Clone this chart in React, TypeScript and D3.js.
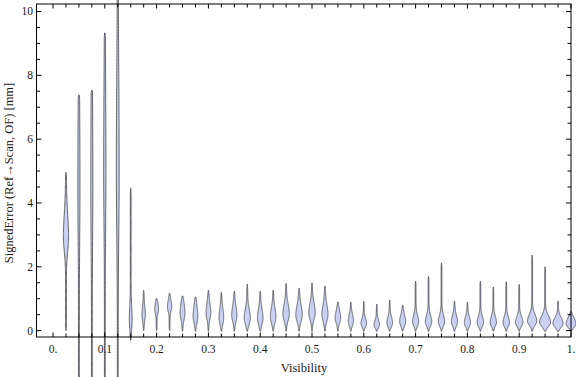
import React from "react";
import * as d3 from "d3";

// Violin positions (Visibility bins)
const positions = [0.025, 0.05, 0.075, 0.1, 0.125, 0.15, 0.175, 0.2, 0.225, 0.25, 0.275, 0.3, 0.325, 0.35, 0.375, 0.4, 0.425, 0.45, 0.475, 0.5, 0.525, 0.55, 0.575, 0.6, 0.625, 0.65, 0.675, 0.7, 0.725, 0.75, 0.775, 0.8, 0.825, 0.85, 0.875, 0.9, 0.925, 0.95, 0.975, 1.0];
// max of each distribution [mm]
const maxima = [4.96, 7.38, 7.53, 9.33, 10.6, 4.46, 1.26, 1.0, 1.17, 1.08, 1.05, 1.27, 1.2, 1.24, 1.46, 1.24, 1.27, 1.48, 1.33, 1.5, 1.4, 0.9, 0.9, 0.92, 0.83, 0.96, 0.8, 1.55, 1.7, 2.12, 0.93, 0.9, 1.55, 1.37, 1.53, 1.45, 2.37, 2.0, 0.93, 0.59];
// min of each distribution [mm]
const minima = [0.0, -2.6, -2.6, -2.6, -2.6, -0.3, 0.0, 0.0, 0.0, -0.02, -0.02, -0.02, -0.02, -0.02, -0.02, -0.02, -0.02, -0.02, -0.02, -0.02, -0.02, -0.02, -0.02, -0.02, -0.02, -0.02, -0.02, -0.02, -0.02, -0.02, -0.02, -0.02, -0.02, -0.02, -0.02, -0.02, -0.02, -0.02, -0.02, -0.02];
// mode of each distribution [mm]
const modes = [2.95, 4.5, 4.5, 5.0, 5.0, 0.35, 0.49, 0.67, 0.74, 0.55, 0.45, 0.55, 0.4, 0.48, 0.39, 0.39, 0.43, 0.52, 0.49, 0.55, 0.5, 0.39, 0.3, 0.22, 0.18, 0.24, 0.28, 0.28, 0.28, 0.28, 0.28, 0.25, 0.26, 0.26, 0.25, 0.26, 0.3, 0.26, 0.22, 0.22];
// relative peak density
const peaks = [0.48, 0.14, 0.14, 0.16, 0.22, 0.22, 0.28, 0.33, 0.38, 0.43, 0.43, 0.43, 0.43, 0.48, 0.58, 0.52, 0.52, 0.62, 0.62, 0.62, 0.58, 0.52, 0.48, 0.52, 0.52, 0.52, 0.58, 0.58, 0.6, 0.6, 0.58, 0.58, 0.62, 0.6, 0.62, 0.72, 0.92, 1.12, 1.02, 0.98];
// spread of the central bulge [mm]
const spreads = [0.7, 2.5, 2.5, 2.5, 3.0, 0.4, 0.25, 0.2, 0.2, 0.3, 0.3, 0.28, 0.28, 0.28, 0.28, 0.28, 0.28, 0.3, 0.3, 0.3, 0.3, 0.22, 0.2, 0.16, 0.14, 0.18, 0.2, 0.2, 0.2, 0.2, 0.2, 0.18, 0.18, 0.18, 0.18, 0.18, 0.2, 0.2, 0.18, 0.18];

const xTickLabels = ["0.", "0.1", "0.2", "0.3", "0.4", "0.5", "0.6", "0.7", "0.8", "0.9", "1."];
const xTickValues = [0, 0.1, 0.2, 0.3, 0.4, 0.5, 0.6, 0.7, 0.8, 0.9, 1.0];
const yTickValues = [0, 2, 4, 6, 8, 10];

const W = 576, H = 377;
const L = 36.5, R = 571, T = 4, B = 337;

export default function App() {
  const x = d3.scaleLinear().domain([-0.0319, 1.0]).range([L, R]);
  const y = d3.scaleLinear().domain([-0.2, 10.235]).range([B, T]);
  const wScale = d3.scaleLinear().domain([0, 1]).range([0, 4.6]);

  const violins = positions.map((p, i) => {
    const lo = minima[i], hi = maxima[i], m = modes[i], s = spreads[i];
    const peak = wScale(peaks[i]);
    const n = 140;
    const pts: [number, number][] = [];
    for (let k = 0; k <= n; k++) {
      const v = lo + ((hi - lo) * k) / n;
      const sd = v < m ? s * 0.65 : s * 1.0;
      const g = Math.exp(-0.5 * ((v - m) / sd) ** 2);
      const distEnd = Math.min(v - lo, hi - v);
      const taper = Math.min(1, distEnd / 0.15);
      const base = 0.4 * Math.sqrt(Math.max(0, taper));
      pts.push([v, base + peak * g]);
    }
    const cx = x(p);
    const right = pts.map(([v, w]) => [cx + w, y(v)] as [number, number]);
    const left = pts.slice().reverse().map(([v, w]) => [cx - w, y(v)] as [number, number]);
    const line = d3.line().curve(d3.curveLinear);
    return line([...right, ...left]) + "Z";
  });

  const xMinor = d3.range(0, 41).map((k) => k * 0.025);
  const yMinor = d3.range(0, 21).map((k) => k * 0.5);
  const font = "'Liberation Serif', 'DejaVu Serif', serif";

  return (
    <svg width={W} height={H} style={{ position: "absolute", left: 0, top: 0, background: "white" }} overflow="visible">
      <rect x={0} y={0} width={W} height={H} fill="white" />
      {violins.map((d, i) => (
        <path key={i} d={d} fill="#c9d0f3" stroke="#333" strokeWidth={0.85} strokeOpacity={0.85} />
      ))}
      {/* frame */}
      <rect x={L} y={T} width={R - L} height={B - T} fill="none" stroke="#000" strokeWidth={1} />
      {xMinor.map((v, i) => {
        const major = Math.abs(v * 10 - Math.round(v * 10)) < 1e-6;
        const len = major ? 4.5 : 3.5;
        return (
          <g key={"xt" + i}>
            <line x1={x(v)} x2={x(v)} y1={B} y2={B - len} stroke="#000" strokeWidth={1} />
            <line x1={x(v)} x2={x(v)} y1={T} y2={T + len} stroke="#000" strokeWidth={1} />
          </g>
        );
      })}
      {yMinor.map((v, i) => {
        const major = v % 2 === 0;
        const len = major ? 5 : 3.5;
        return (
          <g key={"yt" + i}>
            <line x1={L} x2={L + len} y1={y(v)} y2={y(v)} stroke="#000" strokeWidth={1} />
            <line x1={R} x2={R - len} y1={y(v)} y2={y(v)} stroke="#000" strokeWidth={1} />
          </g>
        );
      })}
      {xTickValues.map((v, i) => (
        <text key={"xl" + i} x={x(v)} y={353} textAnchor="middle" fontFamily={font} fontSize={11.5} fill="#1a1a1a">
          {xTickLabels[i]}
        </text>
      ))}
      {yTickValues.map((v, i) => (
        <text key={"yl" + i} x={33} y={y(v) + 4} textAnchor="end" fontFamily={font} fontSize={11.5} fill="#1a1a1a">
          {String(v)}
        </text>
      ))}
      <text x={304} y={372} textAnchor="middle" fontFamily={font} fontSize={12.5} fill="#1a1a1a">
        Visibility
      </text>
      <text transform="translate(13,173) rotate(-90)" textAnchor="middle" fontFamily={font} fontSize={12.5} fill="#1a1a1a">
        SignedError (Ref→Scan, OF) [mm]
      </text>
    </svg>
  );
}
